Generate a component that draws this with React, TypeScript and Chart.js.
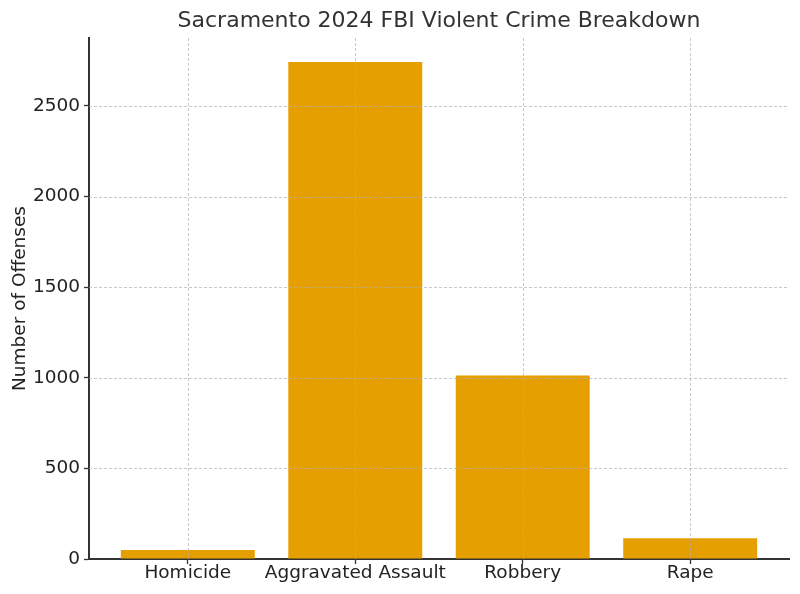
import React, { useEffect, useRef } from "react";
import { Chart, registerables } from "chart.js";

Chart.register(...registerables);

const categories = ["Homicide", "Aggravated Assault", "Robbery", "Rape"];
const offenses = [49, 2742, 1012, 114];
const yTicks = [0, 500, 1000, 1500, 2000, 2500];
const titleText = "Sacramento 2024 FBI Violent Crime Breakdown";
const yLabel = "Number of Offenses";

const FONT = "'DejaVu Sans', sans-serif";

const gridOnTop = {
  id: "gridOnTop",
  afterDatasetsDraw(chart: any) {
    const { ctx, chartArea, scales } = chart;
    ctx.save();
    ctx.strokeStyle = "rgba(176,176,176,0.7)";
    ctx.lineWidth = 1;
    ctx.setLineDash([3, 2]);
    scales.x.ticks.forEach((t: any) => {
      const px = Math.round(scales.x.getPixelForValue(t.value)) + 0.5;
      ctx.beginPath();
      ctx.moveTo(px, chartArea.top);
      ctx.lineTo(px, chartArea.bottom);
      ctx.stroke();
    });
    scales.y.ticks.forEach((t: any) => {
      if (t.value === 0) return;
      const py = Math.round(scales.y.getPixelForValue(t.value)) + 0.5;
      ctx.beginPath();
      ctx.moveTo(chartArea.left, py);
      ctx.lineTo(chartArea.right, py);
      ctx.stroke();
    });
    ctx.restore();
  },
};

const areaTitle = {
  id: "areaTitle",
  afterDraw(chart: any) {
    const { ctx, chartArea } = chart;
    ctx.save();
    ctx.fillStyle = "#333333";
    ctx.font = `22px ${FONT}`;
    ctx.textAlign = "center";
    ctx.textBaseline = "middle";
    ctx.fillText(titleText, (chartArea.left + chartArea.right) / 2, 21);
    ctx.restore();
  },
};

export default function App() {
  const ref = useRef<HTMLCanvasElement>(null);
  useEffect(() => {
    document.body.style.margin = "0";
    const chart = new Chart(ref.current!, {
      type: "bar",
      data: {
        datasets: [
          {
            data: categories.map((c, i) => ({ x: i, y: offenses[i] })),
            backgroundColor: "#E69F00",
            borderWidth: 0,
            barPercentage: 0.8,
            categoryPercentage: 1,
          },
        ],
      },
      options: {
        animation: false,
        responsive: false,
        maintainAspectRatio: false,
        layout: { padding: { left: 0, right: 11, top: 38, bottom: 0 } },
        plugins: {
          legend: { display: false },
          tooltip: { enabled: false },
          title: { display: false },
        },
        scales: {
          x: {
            type: "linear",
            offset: false,
            min: -0.59,
            max: 3.59,
            afterBuildTicks: (s: any) => {
              s.ticks = categories.map((_, i) => ({ value: i }));
            },
            afterFit: (s: any) => {
              s.height = 35;
            },
            ticks: {
              callback: (v: any) => categories[Math.round(v)] ?? "",
              color: "#222222",
              font: { family: FONT, size: 18.5 },
              padding: -2,
              maxRotation: 0,
              autoSkip: false,
            },
            grid: {
              offset: false,
              drawOnChartArea: false,
              drawTicks: true,
              tickLength: 5,
              tickColor: "#333333",
              tickWidth: 1.3,
            },
            border: { display: true, color: "#333333", width: 2 },
          },
          y: {
            type: "linear",
            min: 0,
            max: 2875,
            afterBuildTicks: (s: any) => {
              s.ticks = yTicks.map((v) => ({ value: v }));
            },
            afterFit: (s: any) => {
              s.width = 89;
            },
            title: {
              display: true,
              text: yLabel,
              color: "#222222",
              font: { family: FONT, size: 18.5 },
              padding: { top: 9, bottom: 0 },
            },
            ticks: {
              callback: (v: any) => String(v),
              color: "#222222",
              font: { family: FONT, size: 18.5 },
              padding: 4,
            },
            grid: {
              drawOnChartArea: false,
              drawTicks: true,
              tickLength: 5,
              tickColor: "#333333",
              tickWidth: 1.3,
            },
            border: { display: true, color: "#333333", width: 2 },
          },
        },
      },
      plugins: [gridOnTop, areaTitle],
    } as any);
    return () => chart.destroy();
  }, []);
  return (
    <div style={{ position: "absolute", left: 0, top: 0, width: 800, height: 594, background: "#fff" }}>
      <canvas ref={ref} width={800} height={594} style={{ width: 800, height: 594 }} />
    </div>
  );
}
